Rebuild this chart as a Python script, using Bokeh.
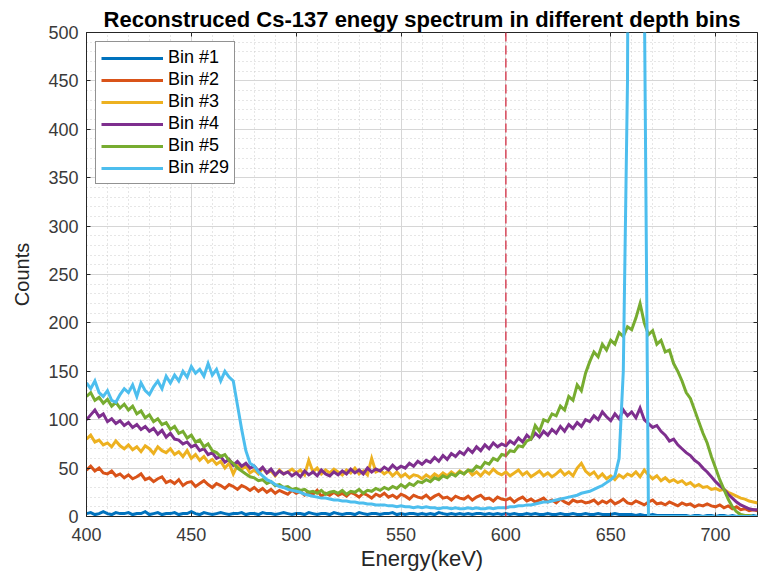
from bokeh.plotting import figure
from bokeh.models import (Range1d, SingleIntervalTicker, LinearAxis, Span, Legend,
                          LegendItem, Title)
from bokeh.embed import file_html
from bokeh.resources import INLINE

# ---------------- data ----------------
energy = list(range(400, 721, 2))  # keV, 2 keV bins

bin1 = [3,4,2,3,5,3,2,4,3,3,
        4,2,3,3,5,2,3,4,2,3,
        3,4,2,3,3,5,3,2,4,3,
        2,3,4,3,2,3,3,4,2,3,
        3,2,4,3,3,2,3,4,3,2,
        3,3,2,4,3,2,3,3,2,4,
        3,2,3,3,2,4,3,2,3,3,
        2,3,3,4,2,3,2,3,3,2,
        3,2,3,2,4,3,2,3,2,3,
        2,3,2,3,3,2,3,2,3,2,
        3,2,3,2,2,3,2,3,2,2,
        3,2,2,3,2,2,3,2,2,3,
        2,2,3,2,2,2,3,2,2,2,
        2,1,2,1,1,2,1,1,1,1,
        1,1,1,1,0,1,1,0,1,1,
        0,1,1,0,1,0,1,0,0,1,
        0]

bin2 = [48,52,47,50,45,44,47,42,44,40,
        43,39,41,44,38,40,36,39,41,35,
        37,34,38,32,35,36,31,34,37,33,
        30,34,32,29,33,31,28,32,30,27,
        30,26,29,25,28,24,27,25,23,27,
        24,26,22,25,23,27,21,24,22,25,
        22,24,21,25,23,20,24,22,19,23,
        21,24,20,22,19,23,21,18,22,20,
        19,22,18,21,23,19,20,17,21,19,
        18,21,17,20,22,18,19,16,20,18,
        17,19,15,18,20,16,18,15,17,19,
        15,17,14,18,15,13,17,15,16,14,
        15,17,13,16,14,17,13,15,18,14,
        13,16,14,12,15,17,13,14,12,15,
        13,11,14,12,13,10,12,11,13,11,
        10,12,9,11,8,10,7,8,6,7,
        6]

bin3 = [80,84,77,79,74,76,72,78,73,70,
        74,69,72,67,73,70,65,72,68,66,
        70,64,67,62,68,60,64,58,62,56,
        59,54,57,50,55,44,53,49,52,45,
        48,44,50,45,47,42,48,44,46,49,
        45,48,43,58,46,50,44,48,45,49,
        46,43,48,45,50,44,47,43,60,46,
        48,44,47,42,46,41,44,40,43,42,
        39,43,40,44,41,45,42,46,43,47,
        44,48,43,46,42,47,44,49,45,43,
        46,42,45,48,43,46,41,44,47,42,
        45,41,44,48,43,46,42,50,55,47,
        43,46,40,44,39,42,38,43,40,44,
        42,46,41,48,43,39,42,37,40,36,
        38,35,37,33,35,31,33,30,31,28,
        29,27,28,25,23,21,19,18,16,15,
        14]

bin4 = [100,105,110,103,106,98,101,96,99,94,
        97,92,95,90,93,88,91,85,89,82,
        86,80,79,75,77,72,74,68,70,64,
        66,60,62,56,59,53,57,52,55,50,
        52,47,51,45,49,43,47,44,46,42,
        45,41,47,43,46,42,48,44,42,46,
        43,47,44,49,45,48,44,50,46,49,
        47,51,48,53,49,52,50,55,52,57,
        54,58,56,61,57,63,59,65,62,67,
        64,70,66,72,68,74,70,76,72,75,
        73,78,75,81,77,84,80,86,82,88,
        84,90,86,93,88,95,91,97,93,100,
        98,104,100,108,103,99,106,101,110,104,
        108,102,112,100,96,92,94,88,84,78,
        80,74,70,66,63,58,55,50,46,41,
        36,32,28,23,19,15,12,10,8,7,
        7]

bin5 = [124,128,120,123,117,121,114,118,112,116,
        110,114,106,109,102,105,98,101,95,97,
        90,93,86,88,81,84,77,79,72,75,
        68,66,62,64,58,55,50,47,44,41,
        40,37,38,34,36,32,33,30,31,28,
        29,27,28,25,26,24,27,23,25,26,
        24,27,23,26,25,28,24,27,26,29,
        27,30,28,31,29,33,30,34,32,36,
        35,38,36,40,38,42,40,44,42,46,
        44,48,47,52,50,56,54,60,58,64,
        63,68,67,73,72,78,80,94,88,100,
        98,106,104,114,110,124,120,136,130,148,
        160,170,165,178,172,182,178,190,186,196,
        193,205,220,200,188,192,178,182,170,172,
        158,150,140,128,122,110,98,86,76,62,
        50,38,28,18,10,5,2,1,1,0,
        0]

bin29 = [138,132,140,128,124,130,120,118,126,132,
         128,136,124,138,130,126,134,140,132,145,
         138,146,140,150,144,155,148,152,145,158,
         146,152,140,150,144,140,115,90,68,55,
         52,46,42,38,36,33,31,30,28,27,
         26,25,23,22,21,20,19,19,18,17,
         17,16,16,15,15,14,14,13,13,12,
         12,12,11,11,10,11,10,10,9,10,
         9,10,9,9,8,9,9,8,9,8,
         8,9,8,9,8,8,9,8,9,9,
         9,10,10,11,11,12,12,13,14,15,
         15,16,17,18,19,20,21,22,24,25,
         26,28,30,32,35,38,42,60,150,450,
         1500,2000,1800,550,0,0,0,0,0,0,
         0,0,0,0,0,0,0,0,0,0,
         0,0,0,0,0,0,0,0,0,0,
         0]

series = [bin1, bin2, bin3, bin4, bin5, bin29]
labels = ["Bin #1", "Bin #2", "Bin #3", "Bin #4", "Bin #5", "Bin #29"]
colors = ["#0072BD", "#D95319", "#EDB120", "#7E2F8E", "#77AC30", "#4DBEEE"]
marker_energy = 600
x_limits = (400, 720)
y_limits = (0, 500)

FONT = "Liberation Sans"
AX = "#262626"

p = figure(width=759, height=580, output_backend="svg", toolbar_location=None,
           x_range=Range1d(*x_limits), y_range=Range1d(*y_limits),
           min_border_left=86, min_border_right=2, min_border_top=32,
           min_border_bottom=64)

p.title = Title(text="Reconstruced Cs-137 enegy spectrum in different depth bins",
                align="center", text_font=FONT, text_font_size="22px",
                text_font_style="bold", text_color="#000000", standoff=1, offset=0)

p.outline_line_color = AX
p.outline_line_width = 1
p.background_fill_color = "white"
p.border_fill_color = "white"

xt = SingleIntervalTicker(interval=50, num_minor_ticks=5)
yt = SingleIntervalTicker(interval=50, num_minor_ticks=5)

for ax, tk in ((p.xaxis[0], xt), (p.yaxis[0], yt)):
    ax.ticker = tk
    ax.axis_line_color = AX
    ax.major_tick_line_color = AX
    ax.major_tick_in = 4
    ax.major_tick_out = 0
    ax.minor_tick_in = 0
    ax.minor_tick_out = 0
    ax.major_label_text_font = FONT
    ax.major_label_text_font_size = "18px"
    ax.major_label_text_color = "#3a3a3a"
    ax.axis_label_text_font = FONT
    ax.axis_label_text_font_style = "normal"
    ax.axis_label_text_color = "#262626"

p.xaxis.axis_label = "Energy(keV)"
p.yaxis.axis_label = "Counts"
p.xaxis.axis_label_text_font_size = "22px"
p.yaxis.axis_label_text_font_size = "20px"
p.xaxis.major_label_standoff = 11
p.xaxis.axis_label_standoff = 2
p.yaxis.major_label_standoff = 8
p.yaxis.axis_label_standoff = 12

# box ticks on right and top (no labels)
for loc, tk in (("right", yt), ("above", xt)):
    a = LinearAxis(ticker=tk, axis_line_color=None, major_tick_line_color=AX,
                   major_tick_in=4, major_tick_out=0, minor_tick_in=0,
                   minor_tick_out=0, major_label_text_font_size="1px",
                   major_label_text_color=None, major_label_text_alpha=0,
                   major_label_standoff=0)
    p.add_layout(a, loc)

p.xgrid.ticker = xt
p.ygrid.ticker = yt
for g in (p.xgrid[0], p.ygrid[0]):
    g.grid_line_color = "#d6d6d6"
    g.grid_line_width = 1
    g.minor_grid_line_color = "#cccccc"
    g.minor_grid_line_dash = "1 3"
    g.minor_grid_line_width = 1

items = []
for ys, lab, col in zip(series, labels, colors):
    r = p.line(energy, ys, line_color=col, line_width=3, line_join="miter")
    items.append(LegendItem(label=lab, renderers=[r]))

p.add_layout(Span(location=marker_energy, dimension="height", line_color="#D9475A",
                  line_dash="9 4", line_width=1.5))

legend = Legend(items=items, location="top_left",
                label_text_font=FONT, label_text_font_size="18px",
                label_text_color="#000000", glyph_width=62, glyph_height=18,
                label_height=18, label_standoff=5, spacing=1, padding=5,
                border_line_color=AX, border_line_width=1,
                background_fill_color="white", background_fill_alpha=1)
legend.margin = 9
p.add_layout(legend)

open("out.html", "w").write(file_html(p, INLINE))
